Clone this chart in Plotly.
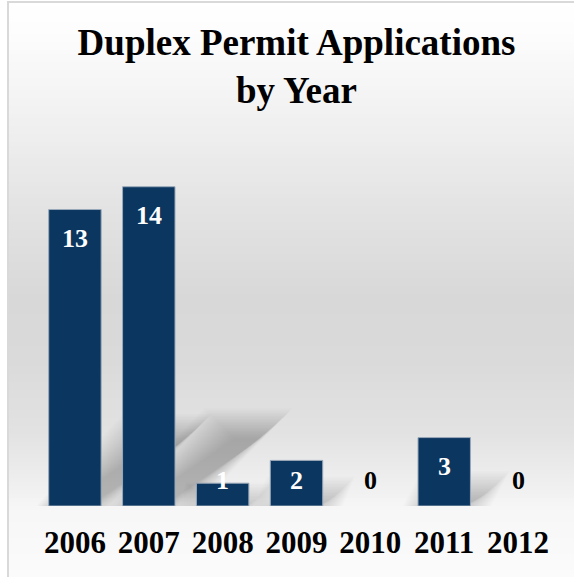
import plotly.graph_objects as go

# Chart data
years = ["2006", "2007", "2008", "2009", "2010", "2011", "2012"]
applications = [13, 14, 1, 2, 0, 3, 0]

W, H = 574, 577
M_L, M_R, M_T, M_B = 38, 19, 150, 71
PLOT_W = W - M_L - M_R
PLOT_H = H - M_T - M_B
Y_MAX = 15.61
PX_X = PLOT_W / len(years)          # pixels per category
PX_Y = PLOT_H / Y_MAX               # pixels per unit of value
BAR_W = 0.71

BAR_FILL = "#0b3660"
BAR_EDGE = "#9aa9b9"
FONT = "Liberation Serif, Times New Roman, serif"


def px_to_paper_x(px):
    return (px - M_L) / PLOT_W


def px_to_paper_y(py):
    return (H - M_B - py) / PLOT_H


def lerp_color(stops, t):
    for (t0, c0), (t1, c1) in zip(stops, stops[1:]):
        if t0 <= t <= t1:
            f = 0 if t1 == t0 else (t - t0) / (t1 - t0)
            return tuple(round(a + (b - a) * f) for a, b in zip(c0, c1))
    return stops[-1][1]


shapes = []

# vertical gray gradient behind the chart (white -> gray -> white)
grad_stops = [
    (0, (255, 255, 255)),
    (30, (253, 253, 253)),
    (110, (242, 242, 242)),
    (210, (227, 227, 227)),
    (300, (216, 216, 216)),
    (360, (218, 218, 218)),
    (430, (226, 226, 226)),
    (480, (238, 238, 238)),
    (512, (247, 247, 247)),
    (577, (251, 251, 251)),
]
step = 4
for y0 in range(2, H, step):
    y1 = min(y0 + step, H)
    r, g, b = lerp_color(grad_stops, (y0 + y1) / 2)
    shapes.append(dict(
        type="rect", xref="paper", yref="paper", layer="below",
        x0=px_to_paper_x(9), x1=px_to_paper_x(W),
        y0=px_to_paper_y(y1), y1=px_to_paper_y(y0),
        fillcolor=f"rgb({r},{g},{b})", line=dict(width=0),
    ))

# chart frame edges (top and left)
shapes.append(dict(type="line", xref="paper", yref="paper", layer="below",
                   x0=px_to_paper_x(8), x1=px_to_paper_x(W),
                   y0=px_to_paper_y(2), y1=px_to_paper_y(2),
                   line=dict(color="#d9d9d9", width=2)))
shapes.append(dict(type="line", xref="paper", yref="paper", layer="below",
                   x0=px_to_paper_x(8), x1=px_to_paper_x(8),
                   y0=px_to_paper_y(1), y1=px_to_paper_y(H),
                   line=dict(color="#d9d9d9", width=2)))

# soft perspective shadows cast up and to the right of each bar,
# built from many faint stacked copies to imitate a blur
SH_SCALE = 0.25     # shadow height relative to bar height
SH_SKEW = 1.25      # horizontal shift per pixel of shadow height
for i, v in enumerate(applications):
    if v <= 0:
        continue
    h_units = SH_SCALE * v
    dx = SH_SKEW * h_units * PX_Y / PX_X
    e = -12.0
    while e <= 18:
        ex = e / PX_X
        ey = e / PX_Y
        xa = i - BAR_W / 2 - ex
        xb = i + BAR_W / 2 + ex
        yb = -0.3 * max(e, 0) / PX_Y
        yt = h_units + ey
        if yt > yb and xb > xa:
            path = (f"M {xa},{yb} L {xb},{yb} "
                    f"L {xb + dx},{yt} L {xa + dx},{yt} Z")
            shapes.append(dict(type="path", xref="x", yref="y", layer="below",
                               path=path, fillcolor="rgba(0,0,0,0.013)",
                               line=dict(width=0)))
        e += 1.5

fig = go.Figure(go.Bar(
    x=list(range(len(years))),
    y=applications,
    width=BAR_W,
    marker=dict(color=BAR_FILL,
                line=dict(color=BAR_EDGE,
                          width=[1 if v > 0 else 0 for v in applications])),
    hoverinfo="skip",
))

# value labels: inside the top of the bar, but never lower than a minimum
annotations = []
for i, v in enumerate(applications):
    y_lab = max(v - 29 / PX_Y, 26 / PX_Y)
    annotations.append(dict(
        x=i, y=y_lab, xref="x", yref="y", text=f"<b>{v}</b>", showarrow=False,
        yanchor="middle", xanchor="center",
        font=dict(family=FONT, size=26, color="#ffffff" if v > 0 else "#000000"),
    ))

fig.update_layout(
    width=W, height=H,
    margin=dict(l=M_L, r=M_R, t=M_T, b=M_B),
    paper_bgcolor="#ffffff",
    plot_bgcolor="rgba(0,0,0,0)",
    showlegend=False,
    title=dict(
        text="<b>Duplex Permit Applications<br>by Year</b>",
        x=0.5, xref="paper", xanchor="center",
        y=1 - 55 / H, yref="container", yanchor="top",
        font=dict(family=FONT, size=37, color="#000000"),
    ),
    xaxis=dict(
        range=[-0.5, len(years) - 0.5],
        tickmode="array", tickvals=list(range(len(years))),
        ticktext=[f"<b>{y}</b>" for y in years],
        tickfont=dict(family=FONT, size=31, color="#000000"),
        ticklabelstandoff=15,
        showgrid=False, zeroline=False, showline=False, ticks="",
        fixedrange=True,
    ),
    yaxis=dict(range=[0, Y_MAX], visible=False, fixedrange=True),
    shapes=shapes,
    annotations=annotations,
)

fig.write_html("out.html")
